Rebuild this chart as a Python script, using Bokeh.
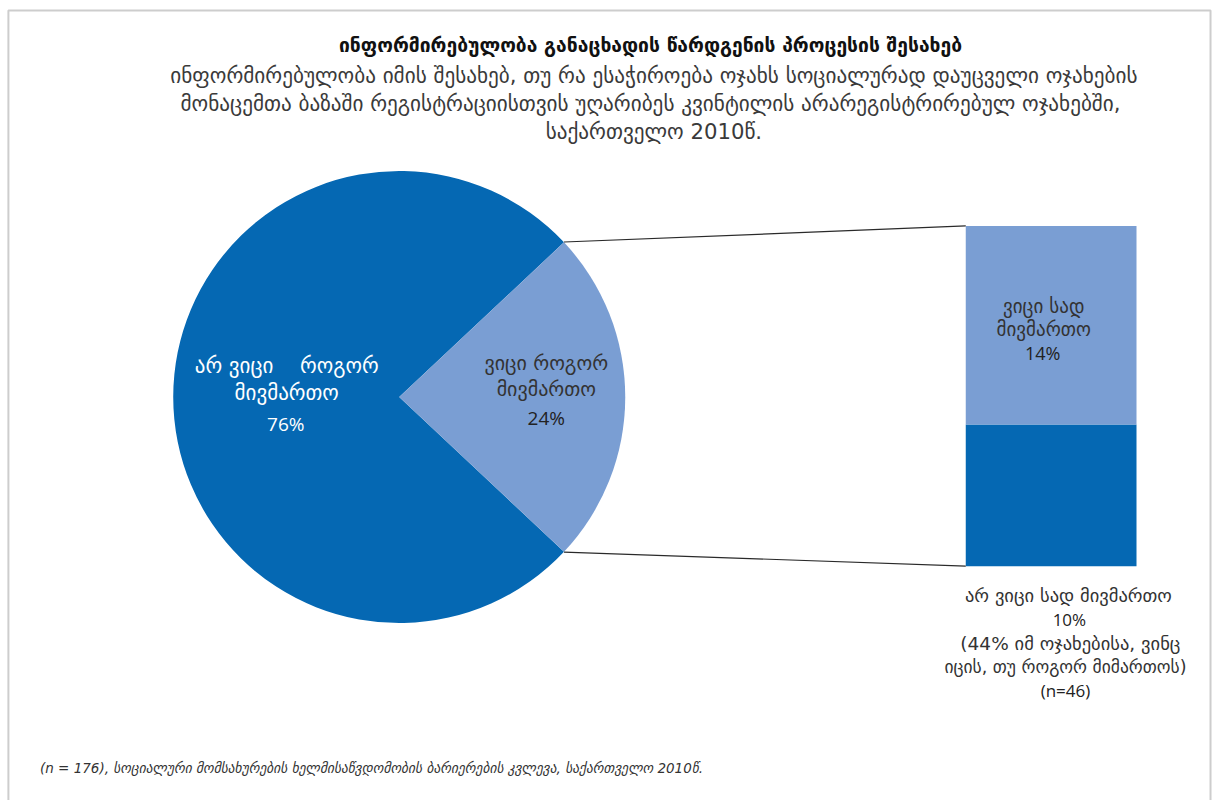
import math
from bokeh.plotting import figure
from bokeh.models import Range1d, BoxAnnotation
from bokeh.core.properties import value
from bokeh.embed import file_html
from bokeh.resources import INLINE

# ---- data ----
pie_categories = ["არ ვიცი\u00a0\u00a0\u00a0 როგორ\nმივმართო", "ვიცი როგორ\nმივმართო"]
pie_values = [76, 24]
bar_categories = ["არ ვიცი სად მივმართო", "ვიცი სად\nმივმართო"]
bar_values = [10, 14]
bar_note = ["(44% იმ ოჯახებისა, ვინც", "იცის, თუ როგორ მიმართოს)", "(n=46)"]
title = "ინფორმირებულობა  განაცხადის წარდგენის პროცესის შესახებ"
subtitle = [
    "ინფორმირებულობა იმის შესახებ, თუ რა ესაჭიროება ოჯახს სოციალურად დაუცველი ოჯახების",
    "მონაცემთა ბაზაში რეგისტრაციისთვის  უღარიბეს კვინტილის არარეგისტრირებულ ოჯახებში,",
    "საქართველო 2010წ.",
]
footnote = "(n = 176), სოციალური მომსახურების ხელმისაწვდომობის ბარიერების კვლევა, საქართველო 2010წ."

DARK = "#0568b3"
LIGHT = "#7a9ed3"
GEO = "DejaVu Sans"
NUM = "Open Sans"

# canvas in reference-picture units (1228 x 809) drawn into a 1212 x 800 figure
RW, RH = 1228, 809
p = figure(width=1212, height=800, x_range=Range1d(0, RW), y_range=Range1d(0, RH),
           output_backend="svg", toolbar_location=None, min_border=0)
p.axis.visible = False
p.grid.visible = False
p.outline_line_color = None
p.background_fill_color = "white"

# chart-area frame
p.add_layout(BoxAnnotation(left=8, right=1226, top=RH - 10, bottom=-20,
                           fill_alpha=0, line_color="#5a5a5a", line_width=2))

def Y(y):  # picture y -> data y
    return RH - y

# ---- pie ----
cx, cy, r = 404, Y(401), 229
total = sum(pie_values)
half = math.pi * pie_values[1] / total  # light slice centred on 0 rad
p.wedge(x=[cx], y=[cy], radius=r, start_angle=[half], end_angle=[2 * math.pi - half],
        fill_color=DARK, line_color=None)
p.wedge(x=[cx], y=[cy], radius=r, start_angle=[-half], end_angle=[half],
        fill_color=LIGHT, line_color=None)

# ---- stacked bar ----
bx0, bx1 = 978, 1151
bbot, btop = Y(572), Y(228)
scale = (btop - bbot) / sum(bar_values)
b0 = bbot
b1 = b0 + bar_values[0] * scale
b2 = b1 + bar_values[1] * scale
p.quad(left=[bx0, bx0], right=[bx1, bx1], bottom=[b0, b1], top=[b1, b2],
       fill_color=[DARK, LIGHT], line_color=None)

# ---- connectors ----
p.line(x=[cx + r * math.cos(half), bx0], y=[cy + r * math.sin(half), b2],
       line_color="#2a2a2a", line_width=1.2)
p.line(x=[cx + r * math.cos(-half), bx0], y=[cy + r * math.sin(-half), b0],
       line_color="#2a2a2a", line_width=1.2)

def txt(x, y, s, size, color, font=GEO, style="normal", align="center"):
    p.text(x=[x], y=[Y(y)], text=[s], text_font=value(font), text_font_size=f"{size}px",
           text_color=color, text_align=align, text_baseline="middle", text_font_style=style)

# ---- titles ----
txt(662, 46, title, 19.3, "#111111", style="bold")
for i, line in enumerate(subtitle):
    txt(662, 76 + 28 * i, line, 21.2, "#3a3a3a")

# ---- pie labels ----
l0 = pie_categories[0].split("\n")
txt(290, 370, l0[0], 21, "white")
txt(290, 397, l0[1], 21, "white")
txt(289, 428, f"{pie_values[0]}%", 19, "white", font=NUM)
l1 = pie_categories[1].split("\n")
txt(553, 367, l1[0], 20, "#333333")
txt(553, 393, l1[1], 20, "#333333")
txt(553, 422, f"{pie_values[1]}%", 19, "#222222", font=NUM)

# ---- bar labels ----
lb = bar_categories[1].split("\n")
txt(1057, 309, lb[0], 19, "#333333")
txt(1057, 332, lb[1], 19, "#333333")
txt(1056, 356, f"{bar_values[1]}%", 18, "#222222", font=NUM)

txt(1082, 602, bar_categories[0], 18.5, "#333333")
txt(1083, 626, f"{bar_values[0]}%", 17, "#222222", font=NUM)
txt(1084, 650, bar_note[0], 18.5, "#333333")
txt(1079, 674, bar_note[1], 17.5, "#333333")
txt(1079, 698, bar_note[2], 17, "#222222", font=NUM)

# ---- footnote ----
txt(40, 776, footnote, 13.5, "#333333", style="italic", align="left")

open("out.html", "w").write(file_html(p, INLINE))
